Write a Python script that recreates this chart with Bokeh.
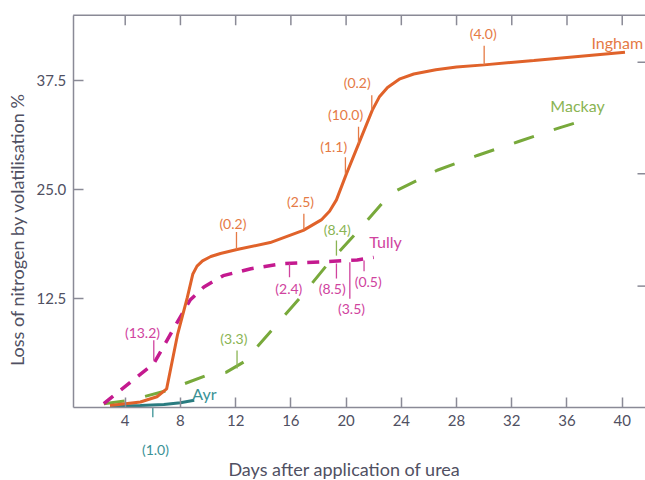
import math
from bokeh.plotting import figure
from bokeh.models import Range1d, FixedTicker, ColumnDataSource, NumeralTickFormatter
from bokeh.core.properties import value
from bokeh.embed import file_html
from bokeh.resources import INLINE

# ---------------- data ----------------
x_ticks = [4, 8, 12, 16, 20, 24, 28, 32, 36, 40]
y_ticks = [12.5, 25.0, 37.5]
right_ticks = [13.9, 26.8, 39.6]

# visible canvas expressed in data units (frame covers the whole canvas)
view_x = (-5.033, 41.686)
view_y = (-8.415, 46.69)
# plot box (axes) in data units
box_left, box_top = 0.233, 45.0
top_tick_len = 1.15          # inward tick length on the top edge, data units

days_ingham = [2.9, 5.1, 6.3, 7.0, 7.8, 8.5, 8.9, 9.2, 9.6, 10.2, 10.9, 12.1, 14.5, 16.9, 18.2, 18.8, 19.3,
               20.0, 20.9, 21.9, 22.4, 23.0, 23.9, 24.9, 26.5, 28.0, 30.0, 33.6, 40.2]
loss_ingham = [0.2, 0.6, 1.2, 2.1, 8.4, 12.6, 15.3, 16.2, 16.8, 17.3, 17.65, 18.1, 18.9, 20.3, 21.5, 22.5, 23.8,
               26.7, 30.2, 34.1, 35.6, 36.7, 37.7, 38.25, 38.75, 39.05, 39.3, 39.8, 40.75]

days_mackay = [2.45, 4.4, 7.0, 8.3, 9.8, 11.3, 12.6, 14.7, 16.8, 18.6, 20.8, 22.6, 23.7, 26.6, 29.5, 32.5, 35.5, 37.8]
loss_mackay = [0.4, 0.8, 1.9, 2.7, 3.6, 4.0, 5.2, 9.0, 12.8, 16.3, 20.1, 23.4, 24.9, 27.2, 28.9, 30.5, 32.1, 33.2]

days_tully = [2.45, 4.4, 6.07, 7.5, 8.7, 9.7, 11.1, 13.1, 15.5, 18.4, 20.8, 22.0]
loss_tully = [0.4, 2.9, 5.0, 9.0, 12.3, 13.8, 15.1, 15.9, 16.5, 16.7, 16.9, 17.2]

days_ayr = [2.9, 5.1, 6.8, 8.0, 9.0]
loss_ayr = [0.08, 0.2, 0.3, 0.5, 0.8]

# rainfall notes (mm)
ingham_notes = ["(0.2)", "(2.5)", "(1.1)", "(10.0)", "(0.2)", "(4.0)"]
ingham_note_day = [12.06, 16.94, 19.95, 20.9, 21.86, 30.0]
ingham_tick_lo = [18.1, 20.3, 26.8, 30.25, 34.1, 39.3]
ingham_tick_hi = [20.1, 22.2, 28.7, 32.2, 35.8, 41.5]
ingham_label_day = [11.8, 16.7, 19.1, 19.96, 20.8, 29.93]
ingham_label_loss = [21.1, 23.6, 29.9, 33.6, 37.3, 42.9]

mackay_notes = ["(3.3)", "(8.4)"]
mackay_note_day = [12.1, 19.3]
mackay_tick_lo = [4.45, 17.4]
mackay_tick_hi = [6.5, 19.15]
mackay_label_day = [11.87, 19.36]
mackay_label_loss = [7.85, 20.4]

tully_notes = ["(13.2)", "(2.4)", "(8.5)", "(3.5)", "(0.5)"]
tully_note_day = [6.07, 15.9, 19.3, 20.27, 21.3]
tully_tick_lo = [5.4, 14.92, 14.77, 12.44, 15.61]
tully_tick_hi = [7.7, 16.5, 16.5, 16.65, 16.84]
tully_label_day = [5.25, 15.85, 18.99, 20.39, 21.6]
tully_label_loss = [8.6, 13.66, 13.6, 11.3, 14.43]

ayr_notes = ["(1.0)"]
ayr_note_day = [6.0]
ayr_tick_lo = [-1.15]
ayr_tick_hi = [0.0]
ayr_label_day = [6.19]
ayr_label_loss = [-4.86]

series_names = ["Ingham", "Mackay", "Tully", "Ayr"]
series_label_day = [39.64, 36.76, 22.85, 9.74]
series_label_loss = [41.9, 34.6, 19.06, 1.6]

x_title = "Days after application of urea"
y_title = "Loss of nitrogen by volatilisation %"
x_title_pos = (19.88, -7.04)
y_title_pos = (-3.874, 20.4)

# ---------------- style ----------------
FONT = "Lato"
AX = "#8a8a96"
TXT = "#505062"
ORANGE, ORANGE_T = "#E0622A", "#E57A45"
GREEN, GREEN_T = "#78A93B", "#8AB453"
MAGENTA, MAGENTA_T = "#C41A8F", "#D0439E"
TEAL, TEAL_T = "#2A7C80", "#3A9296"

p = figure(width=645, height=480, output_backend="svg", toolbar_location=None,
           x_range=Range1d(*view_x), y_range=Range1d(*view_y),
           min_border_left=0, min_border_right=0, min_border_top=0, min_border_bottom=0,
           background_fill_color="white", border_fill_color="white", outline_line_color=None)
p.grid.visible = False

def style_axis(ax):
    ax.axis_line_color = AX
    ax.axis_line_width = 1.5
    ax.major_tick_line_color = AX
    ax.major_tick_line_width = 1.5
    ax.major_tick_in = 10
    ax.major_tick_out = 0
    ax.minor_tick_line_color = None
    ax.major_label_text_font = FONT
    ax.major_label_text_color = TXT
    ax.major_label_text_font_size = "15px"

xa = p.xaxis[0]
xa.ticker = FixedTicker(ticks=x_ticks)
xa.fixed_location = 0
xa.bounds = (box_left, view_x[1])
style_axis(xa)
xa.major_label_standoff = 8

ya = p.yaxis[0]
ya.ticker = FixedTicker(ticks=y_ticks)
ya.formatter = NumeralTickFormatter(format="0.0")
ya.fixed_location = box_left
ya.bounds = (0, box_top)
style_axis(ya)
ya.major_label_standoff = 7

# top edge of the box with inward ticks, and right-edge ticks (no labels there)
p.segment(x0=[box_left], y0=[box_top], x1=[view_x[1]], y1=[box_top], line_color=AX, line_width=1.5)
p.segment(x0=x_ticks, y0=[box_top] * len(x_ticks), x1=x_ticks,
          y1=[box_top - top_tick_len] * len(x_ticks), line_color=AX, line_width=1.5)
p.scatter(x=[view_x[1]] * len(right_ticks), y=right_ticks, marker="dash", size=16,
          line_color=AX, line_width=1.5)

# ---------------- series ----------------
p.line(days_mackay, loss_mackay, line_color=GREEN, line_width=3, line_dash="21 21")
p.line(days_tully, loss_tully, line_color=MAGENTA, line_width=3.5, line_dash="12 10")
p.line(days_ayr, loss_ayr, line_color=TEAL, line_width=3)
p.line(days_ingham, loss_ingham, line_color=ORANGE, line_width=3)

def notes(days, lo, hi, ldays, lloss, texts, col):
    p.segment(x0=days, y0=lo, x1=days, y1=hi, line_color=col, line_width=1.3)
    src = ColumnDataSource(dict(x=ldays, y=lloss, t=texts))
    p.text(x="x", y="y", text="t", source=src, text_align="center", text_baseline="middle",
           text_font=value(FONT), text_font_size="14px", text_color=col)

notes(ingham_note_day, ingham_tick_lo, ingham_tick_hi, ingham_label_day, ingham_label_loss, ingham_notes, ORANGE_T)
notes(mackay_note_day, mackay_tick_lo, mackay_tick_hi, mackay_label_day, mackay_label_loss, mackay_notes, GREEN_T)
notes(tully_note_day, tully_tick_lo, tully_tick_hi, tully_label_day, tully_label_loss, tully_notes, MAGENTA_T)
notes(ayr_note_day, ayr_tick_lo, ayr_tick_hi, ayr_label_day, ayr_label_loss, ayr_notes, TEAL_T)

series_cols = [ORANGE_T, GREEN_T, MAGENTA_T, TEAL_T]
src = ColumnDataSource(dict(x=series_label_day, y=series_label_loss, t=series_names, c=series_cols))
p.text(x="x", y="y", text="t", color="c", source=src, text_align="center", text_baseline="middle",
       text_font=value(FONT), text_font_size="16px")

# axis titles
p.text(x=[x_title_pos[0]], y=[x_title_pos[1]], text=[x_title], text_align="center",
       text_baseline="middle", text_font=value(FONT), text_font_size="18px", text_color=TXT)
p.text(x=[y_title_pos[0]], y=[y_title_pos[1]], text=[y_title], angle=math.pi / 2,
       text_align="center", text_baseline="middle", text_font=value(FONT),
       text_font_size="18px", text_color=TXT)

open("out.html", "w").write(file_html(p, INLINE))
